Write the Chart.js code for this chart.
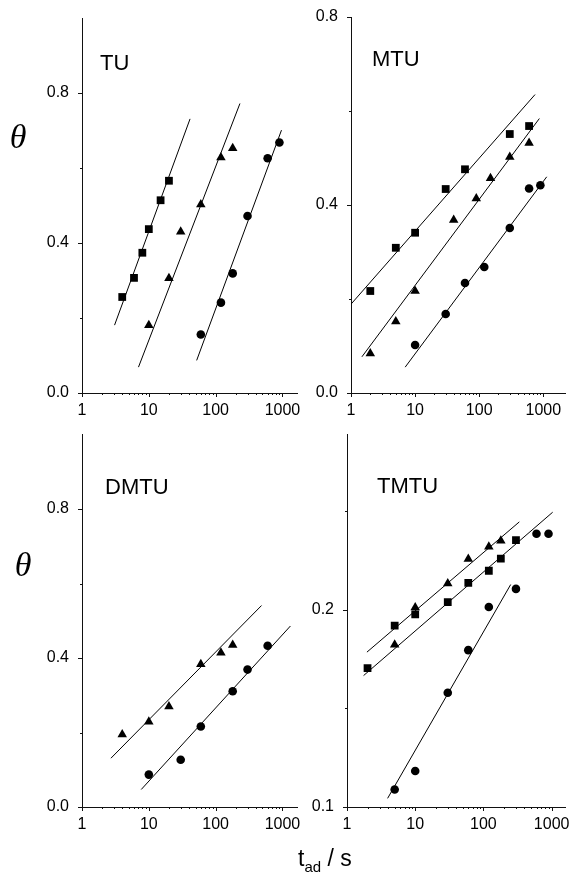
<!DOCTYPE html>
<html>
<head>
<meta charset="utf-8">
<script src="https://cdn.jsdelivr.net/npm/chart.js@4.4.1/dist/chart.umd.min.js"></script>
<style>
  body { margin: 0; background: #fff; }
  #page { position: relative; width: 573px; height: 887px; overflow: hidden; }
  canvas { position: absolute; }
  .theta { position: absolute; font: italic 34px "Liberation Serif", "DejaVu Serif", serif; line-height: 1; transform: translate(-50%, -50%); }
  .xlabel { position: absolute; left: 298px; top: 847px; font: 23px "Liberation Sans", Arial, sans-serif; line-height: 22px; white-space: nowrap; }
  .xlabel sub { font-size: 15px; vertical-align: -6px; }
</style>
</head>
<body>
<div id="page">
  <canvas id="cTU" width="310" height="420" style="left:0;top:0"></canvas>
  <canvas id="cMTU" width="273" height="420" style="left:300px;top:0"></canvas>
  <canvas id="cDMTU" width="310" height="420" style="left:0;top:420px"></canvas>
  <canvas id="cTMTU" width="273" height="420" style="left:300px;top:420px"></canvas>
  <div class="theta" style="left:18px;top:137px">θ</div>
  <div class="theta" style="left:23px;top:565px">θ</div>
  <div class="xlabel">t<sub>ad</sub> / s</div>
</div>
<script>
// TU
const tuSqX = [4, 6, 8, 10, 15, 20];
const tuSqY = [0.256, 0.307, 0.374, 0.437, 0.514, 0.566];
const tuTriX = [10, 20, 30, 60, 120, 180];
const tuTriY = [0.181, 0.306, 0.430, 0.503, 0.628, 0.653];
const tuCirX = [60, 120, 180, 300, 600, 900];
const tuCirY = [0.156, 0.241, 0.319, 0.472, 0.626, 0.668];
const tuSqFitX = [3.07, 41.4], tuSqFitY = [0.181, 0.731];
const tuTriFitX = [7.0, 231], tuTriFitY = [0.069, 0.772];
const tuCirFitX = [52, 967], tuCirFitY = [0.087, 0.701];

// MTU
const mtuSqX = [2, 5, 10, 30, 60, 300, 600];
const mtuSqY = [0.217, 0.309, 0.341, 0.434, 0.476, 0.551, 0.568];
const mtuTriX = [2, 5, 10, 40, 90, 150, 300, 600];
const mtuTriY = [0.084, 0.152, 0.217, 0.368, 0.414, 0.457, 0.502, 0.532];
const mtuCirX = [10, 30, 60, 120, 300, 600, 900];
const mtuCirY = [0.102, 0.168, 0.234, 0.268, 0.351, 0.435, 0.442];
const mtuSqFitX = [1, 743], mtuSqFitY = [0.189, 0.635];
const mtuTriFitX = [1.48, 868], mtuTriFitY = [0.077, 0.584];
const mtuCirFitX = [7.0, 1130], mtuCirFitY = [0.055, 0.460];

// DMTU
const dmtuTriX = [4, 10, 20, 60, 120, 180];
const dmtuTriY = [0.195, 0.229, 0.270, 0.383, 0.414, 0.435];
const dmtuCirX = [10, 30, 60, 180, 300, 600];
const dmtuCirY = [0.087, 0.127, 0.216, 0.311, 0.369, 0.433];
const dmtuTriFitX = [2.71, 486], dmtuTriFitY = [0.131, 0.541];
const dmtuCirFitX = [7.7, 1316], dmtuCirFitY = [0.047, 0.486];

// TMTU
const tmtuTriX = [5, 10, 30, 60, 120, 180];
const tmtuTriY = [0.1824, 0.2013, 0.2134, 0.2259, 0.2321, 0.2351];
const tmtuSqX = [2, 5, 10, 30, 60, 120, 180, 300];
const tmtuSqY = [0.1705, 0.1920, 0.1978, 0.2040, 0.2137, 0.2199, 0.2261, 0.2355];
const tmtuCirX = [5, 10, 30, 60, 120, 300, 600, 900];
const tmtuCirY = [0.1089, 0.1183, 0.1580, 0.1796, 0.2015, 0.2107, 0.2387, 0.2387];
const tmtuUpFitX = [1.96, 336], tmtuUpFitY = [0.1786, 0.2447];
const tmtuLoFitX = [1.75, 1035], tmtuLoFitY = [0.1667, 0.2496];
const tmtuCirFitX = [3.94, 251], tmtuCirFitY = [0.1044, 0.2129];

// axis ticks
const xMajor = [1, 10, 100, 1000];
const xMinor = [2, 3, 4, 5, 6, 7, 8, 9, 20, 30, 40, 50, 60, 70, 80, 90, 200, 300, 400, 500, 600, 700, 800, 900];
const yMajorWide = [0, 0.4, 0.8], yMinorWide = [0.2, 0.6];
const yMajorTmtu = [0.1, 0.2], yMinorTmtu = [0.15, 0.25];

const FONT = '"Liberation Sans", Arial, sans-serif';

const pts = (xs, ys) => xs.map((x, i) => ({ x: x, y: ys[i] }));

function marks(xs, ys, style, r) {
  return {
    data: pts(xs, ys), showLine: false, pointStyle: style, pointRadius: r,
    pointBackgroundColor: '#000', pointBorderColor: '#000', pointBorderWidth: 0
  };
}
function fit(xs, ys) {
  return { data: pts(xs, ys), showLine: true, pointRadius: 0, borderColor: '#000', borderWidth: 1 };
}

// outward tick marks and panel name
const panelDecor = {
  id: 'panelDecor',
  afterDraw(chart, args, o) {
    const ctx = chart.ctx, sx = chart.scales.x, sy = chart.scales.y;
    ctx.save();
    ctx.strokeStyle = '#111';
    ctx.lineWidth = 1;
    ctx.beginPath();
    const xt = (v, len) => {
      const p = Math.round(sx.getPixelForValue(v)) + 0.5;
      ctx.moveTo(p, sy.bottom); ctx.lineTo(p, sy.bottom + len);
    };
    const yt = (v, len) => {
      const p = Math.round(sy.getPixelForValue(v)) + 0.5;
      ctx.moveTo(sx.left, p); ctx.lineTo(sx.left - len, p);
    };
    xMajor.forEach(v => xt(v, 4));
    xMinor.forEach(v => xt(v, 2));
    o.yMajor.forEach(v => yt(v, 4));
    o.yMinor.forEach(v => yt(v, 2));
    ctx.stroke();
    ctx.fillStyle = '#000';
    ctx.font = '22px ' + FONT;
    ctx.textBaseline = 'alphabetic';
    ctx.fillText(o.title, o.tx, o.ty);
    ctx.restore();
  }
};

function makePanel(id, p) {
  new Chart(document.getElementById(id), {
    type: 'scatter',
    data: { datasets: p.datasets },
    plugins: [panelDecor],
    options: {
      responsive: false,
      animation: false,
      layout: { padding: { top: p.padTop, right: p.padRight, left: 0, bottom: 0 } },
      plugins: {
        legend: { display: false },
        tooltip: { enabled: false },
        panelDecor: { title: p.title, tx: p.tx, ty: p.ty, yMajor: p.yMajor, yMinor: p.yMinor }
      },
      scales: {
        x: {
          type: 'logarithmic', min: 1, max: p.xMax,
          grid: { display: false },
          border: { color: '#111', width: 1 },
          afterBuildTicks: s => { s.ticks = xMajor.map(v => ({ value: v })); },
          afterFit: s => { s.height = p.xH; },
          ticks: { color: '#000', font: { family: FONT, size: 16 }, padding: 0, maxRotation: 0, autoSkip: false,
                   callback: v => String(v) }
        },
        y: {
          type: 'linear', min: p.yMin, max: p.yMax,
          grid: { display: false },
          border: { color: '#111', width: 1 },
          afterBuildTicks: s => { s.ticks = p.yMajor.map(v => ({ value: v })); },
          afterFit: s => { s.width = p.yW; },
          ticks: { color: '#000', font: { family: FONT, size: 16 }, padding: 5,
                   callback: v => Number(v).toFixed(1) }
        }
      }
    }
  });
}

makePanel('cTU', {
  title: 'TU', tx: 100, ty: 70,
  padTop: 18, padRight: 13, yW: 82, xH: 27,
  xMax: 1650, yMin: 0, yMax: 1.0, yMajor: yMajorWide, yMinor: yMinorWide,
  datasets: [
    fit(tuSqFitX, tuSqFitY), fit(tuTriFitX, tuTriFitY), fit(tuCirFitX, tuCirFitY),
    marks(tuSqX, tuSqY, 'rect', 5.5), marks(tuTriX, tuTriY, 'triangle', 5.5), marks(tuCirX, tuCirY, 'circle', 4.3)
  ]
});

makePanel('cMTU', {
  title: 'MTU', tx: 72, ty: 66,
  padTop: 17, padRight: 8, yW: 51, xH: 27,
  xMax: 2180, yMin: 0, yMax: 0.8, yMajor: yMajorWide, yMinor: yMinorWide,
  datasets: [
    fit(mtuSqFitX, mtuSqFitY), fit(mtuTriFitX, mtuTriFitY), fit(mtuCirFitX, mtuCirFitY),
    marks(mtuSqX, mtuSqY, 'rect', 5.5), marks(mtuTriX, mtuTriY, 'triangle', 5.5), marks(mtuCirX, mtuCirY, 'circle', 4.3)
  ]
});

makePanel('cDMTU', {
  title: 'DMTU', tx: 105, ty: 74,
  padTop: 9, padRight: 13, yW: 82, xH: 33,
  xMax: 1650, yMin: 0, yMax: 1.0, yMajor: yMajorWide, yMinor: yMinorWide,
  datasets: [
    fit(dmtuTriFitX, dmtuTriFitY), fit(dmtuCirFitX, dmtuCirFitY),
    marks(dmtuTriX, dmtuTriY, 'triangle', 5.5), marks(dmtuCirX, dmtuCirY, 'circle', 4.3)
  ]
});

makePanel('cTMTU', {
  title: 'TMTU', tx: 77, ty: 73,
  padTop: 12, padRight: 8, yW: 47, xH: 33,
  xMax: 1570, yMin: 0.1, yMax: 0.289, yMajor: yMajorTmtu, yMinor: yMinorTmtu,
  datasets: [
    fit(tmtuUpFitX, tmtuUpFitY), fit(tmtuLoFitX, tmtuLoFitY), fit(tmtuCirFitX, tmtuCirFitY),
    marks(tmtuSqX, tmtuSqY, 'rect', 5.5), marks(tmtuTriX, tmtuTriY, 'triangle', 5.5), marks(tmtuCirX, tmtuCirY, 'circle', 4.3)
  ]
});
</script>
</body>
</html>
